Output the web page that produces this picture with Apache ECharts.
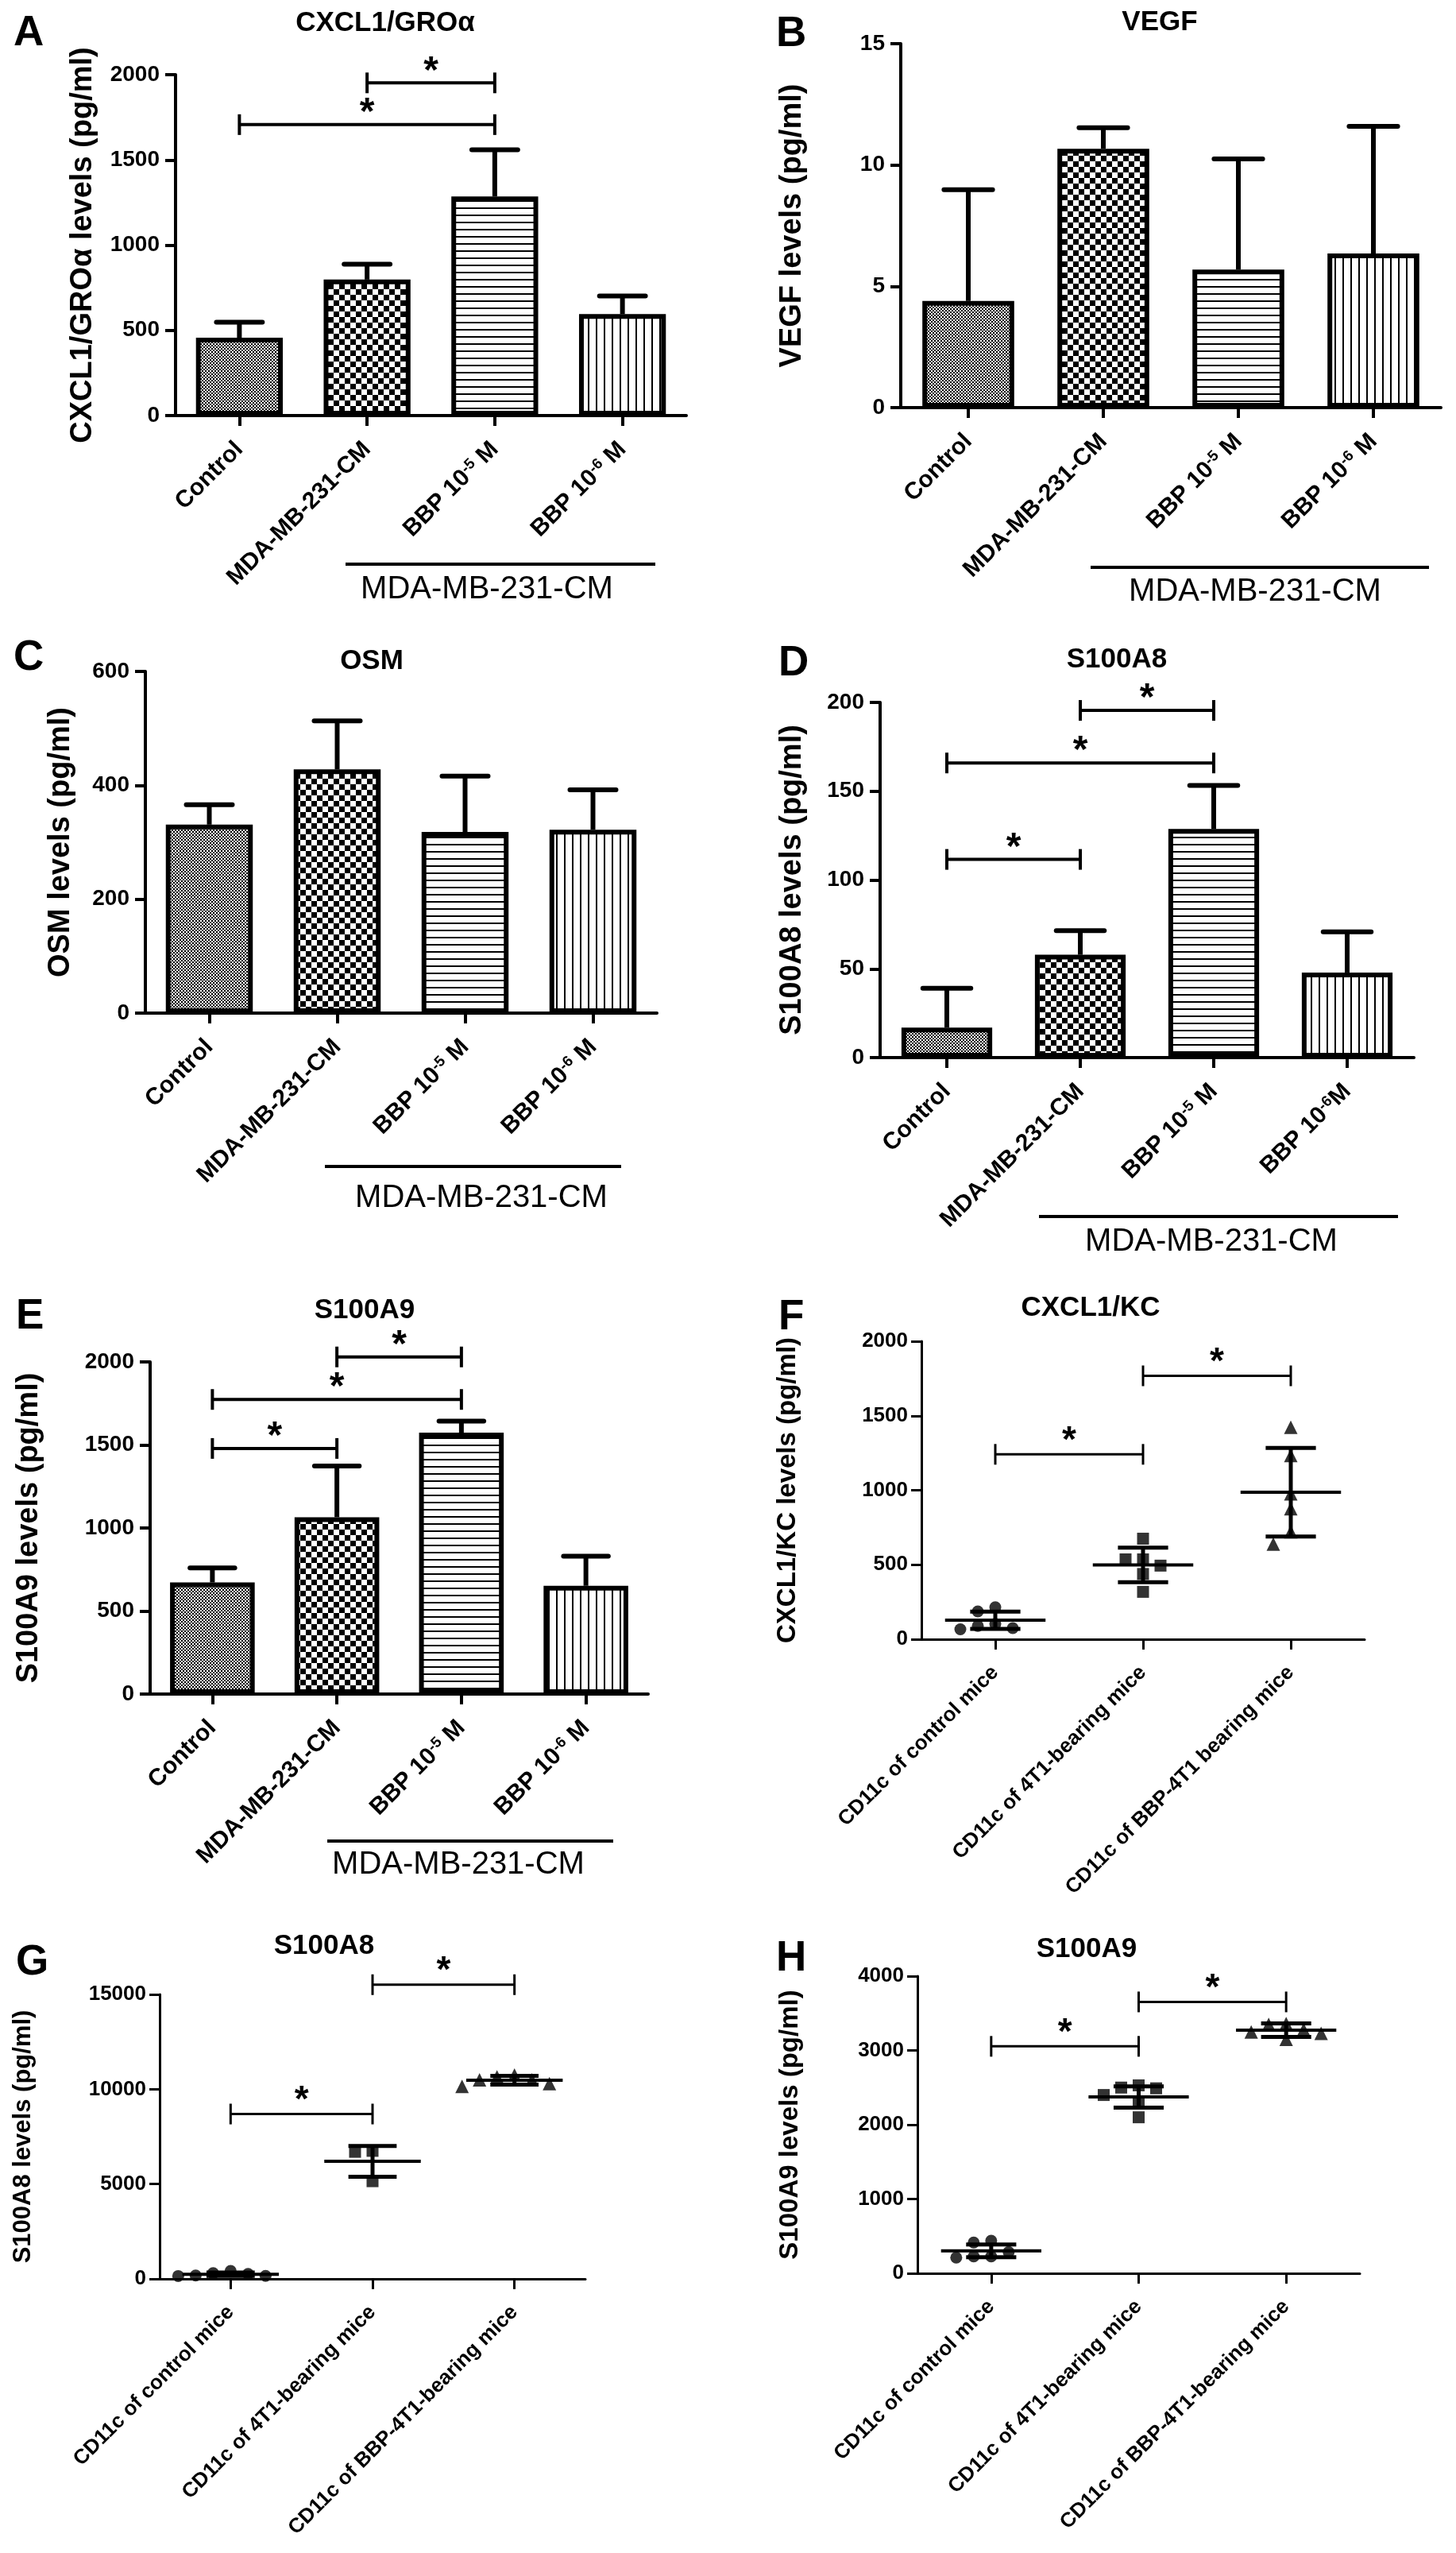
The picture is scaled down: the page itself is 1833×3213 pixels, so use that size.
<!DOCTYPE html>
<html>
<head>
<meta charset="utf-8">
<title>Cytokine levels</title>
<script src="https://cdn.jsdelivr.net/npm/echarts@6.0.0/dist/echarts.min.js"></script>
<style>
    html, body { margin: 0; padding: 0; background: #fff; }
    #main { width: 1833px; height: 3213px; }
</style>
</head>
<body>
<div id="main"></div>
<script>
// 类别
var barCats = ['Control', 'MDA-MB-231-CM', 'BBP 10^-5 M', 'BBP 10^-6 M'];
var barCatsD = ['Control', 'MDA-MB-231-CM', 'BBP 10^-5 M', 'BBP 10^-6M'];
var miceCatsF = ['CD11c of control mice', 'CD11c of 4T1-bearing mice', 'CD11c of BBP-4T1 bearing mice'];
var miceCats = ['CD11c of control mice', 'CD11c of 4T1-bearing mice', 'CD11c of BBP-4T1-bearing mice'];
var groupLabel = 'MDA-MB-231-CM';

// A CXCL1/GROα
var cxclMean = [457, 798, 1286, 595];
var cxclErr = [91, 90, 274, 107];
var cxclSig = [[0, 2, 1707], [1, 2, 1952]];   // [from, to, y]
// B VEGF
var vegfMean = [4.40, 10.67, 5.69, 6.35];
var vegfErr = [4.58, 0.87, 4.56, 5.24];
// C OSM
var osmMean = [331, 428, 318, 322];
var osmErr = [35, 85, 98, 70];
// D S100A8
var a8Mean = [16.9, 57.9, 128.7, 47.9];
var a8Err = [22.1, 13.6, 24.5, 22.9];
var a8Sig = [[0, 1, 111.6], [0, 2, 165.9], [1, 2, 195.5]];
// E S100A9
var a9Mean = [672, 1065, 1574, 652];
var a9Err = [87, 308, 70, 178];
var a9Sig = [[0, 1, 1479], [0, 2, 1774], [1, 2, 2030]];

// F CXCL1/KC (mice)
var kcControl = [187, 215, 89, 67, 75, 103];
var kc4T1 = [675, 536, 536, 494, 438, 318];
var kcBBP = [1423, 1233, 976, 876, 722, 639];
var kcMean = [128, 499, 987];
var kcSd = [58, 116, 297];
var kcSig = [[0, 1, 1241], [1, 2, 1768]];
// G S100A8 (mice)
var mA8Control = [420, 260, 300, 180, 150, 160];
var mA84T1 = [6700, 6750, 5150];
var mA8BBP = [10750, 10650, 10500, 10150, 10300, 10500];
var mA8Mean = [245, 6196, 10476];
var mA8Sd = [90, 814, 234];
var mA8Sig = [[0, 1, 8693], [1, 2, 15513]];
// H S100A9 (mice)
var mA9Control = [415, 438, 228, 211, 228, 285];
var mA94T1 = [2490, 2500, 2530, 2400, 2300, 2100];
var mA9BBP = [3350, 3360, 3280, 3150, 3250, 3230];
var mA9Mean = [302, 2373, 3272];
var mA9Sd = [85, 142, 91];
var mA9Sig = [[0, 1, 3055], [1, 2, 3653]];

var FONT = '"Liberation Sans", Arial, Helvetica, sans-serif';

// 填充图案
function makePattern(w, h, draw) {
    var c = document.createElement('canvas');
    c.width = w;
    c.height = h;
    var ctx = c.getContext('2d');
    ctx.fillStyle = '#fff';
    ctx.fillRect(0, 0, w, h);
    ctx.fillStyle = '#000';
    draw(ctx);
    return { image: c, repeat: 'repeat' };
}
var fills = [
    makePattern(4, 4, function (ctx) { ctx.fillRect(0, 0, 2, 2); ctx.fillRect(2, 2, 2, 2); }),
    makePattern(14, 14, function (ctx) { ctx.fillRect(0, 0, 7, 7); ctx.fillRect(7, 7, 7, 7); }),
    makePattern(4, 9, function (ctx) { ctx.fillRect(0, 0, 4, 2); }),
    makePattern(10, 4, function (ctx) { ctx.fillRect(0, 0, 2, 4); })
];

// group: [x1, x2, lineY, textX, textY]
var panels = [
    { letter: 'A', kind: 'bar', title: 'CXCL1/GROα', yName: 'CXCL1/GROα levels (pg/ml)', cats: barCats,
      mean: cxclMean, err: cxclErr, sig: cxclSig, max: 2000, step: 500,
      grid: [221, 94, 643, 429], titlePos: [485, 29], letterPos: [17, 42], nameGap: 116, group: [435, 825, 710, 613, 742] },
    { letter: 'B', kind: 'bar', title: 'VEGF', yName: 'VEGF levels (pg/ml)', cats: barCats,
      mean: vegfMean, err: vegfErr, sig: [], max: 15, step: 5,
      grid: [1134, 55, 680, 458], titlePos: [1460, 28], letterPos: [977, 43], nameGap: 136, group: [1373, 1799, 714, 1580, 745] },
    { letter: 'C', kind: 'bar', title: 'OSM', yName: 'OSM levels (pg/ml)', cats: barCats,
      mean: osmMean, err: osmErr, sig: [], max: 600, step: 200,
      grid: [183, 845, 644, 430], titlePos: [468, 832], letterPos: [17, 828], nameGap: 106, group: [409, 782, 1468, 606, 1508] },
    { letter: 'D', kind: 'bar', title: 'S100A8', yName: 'S100A8 levels (pg/ml)', cats: barCatsD,
      mean: a8Mean, err: a8Err, sig: a8Sig, max: 200, step: 50,
      grid: [1108, 884, 672, 447], titlePos: [1406, 830], letterPos: [980, 835], nameGap: 110, group: [1308, 1760, 1531, 1525, 1563] },
    { letter: 'E', kind: 'bar', title: 'S100A9', yName: 'S100A9 levels (pg/ml)', cats: barCats,
      mean: a9Mean, err: a9Err, sig: a9Sig, max: 2000, step: 500,
      grid: [189, 1714, 627, 418], titlePos: [459, 1649], letterPos: [20, 1657], nameGap: 152, group: [412, 772, 2317, 577, 2347] },
    { letter: 'F', kind: 'dot', title: 'CXCL1/KC', yName: 'CXCL1/KC levels (pg/ml)', cats: miceCatsF,
      points: [kcControl, kc4T1, kcBBP], mean: kcMean, sd: kcSd, sig: kcSig, max: 2000, step: 500,
      grid: [1160, 1688, 558, 375], titlePos: [1373, 1646], letterPos: [980, 1658], nameGap: 168, nameSize: 33 },
    { letter: 'G', kind: 'dot', title: 'S100A8', yName: 'S100A8 levels (pg/ml)', cats: miceCats,
      points: [mA8Control, mA84T1, mA8BBP], mean: mA8Mean, sd: mA8Sd, sig: mA8Sig, max: 15000, step: 5000,
      grid: [201, 2510, 536, 358], titlePos: [408, 2449], letterPos: [20, 2470], nameGap: 172, nameSize: 31 },
    { letter: 'H', kind: 'dot', title: 'S100A9', yName: 'S100A9 levels (pg/ml)', cats: miceCats,
      points: [mA9Control, mA94T1, mA9BBP], mean: mA9Mean, sd: mA9Sd, sig: mA9Sig, max: 4000, step: 1000,
      grid: [1155, 2487, 557, 374], titlePos: [1368, 2453], letterPos: [977, 2465], nameGap: 160, nameSize: 33 }
];

var dotSymbols = ['circle', 'rect', 'triangle'];
var dotSizes = [15, 15, 17];

function line(x1, y1, x2, y2, w, cap) {
    return { type: 'line', shape: { x1: x1, y1: y1, x2: x2, y2: y2 },
             style: { stroke: '#000', lineWidth: w, lineCap: cap || 'butt' } };
}

function text(str, x, y, size, weight, rot) {
    return { type: 'text', x: x, y: y, rotation: rot || 0,
             style: { text: str, fill: '#000', fontSize: size, fontWeight: weight, fontFamily: FONT,
                      align: 'center', verticalAlign: 'middle', textAlign: 'center', textVerticalAlign: 'middle' } };
}

// 误差线（只画上半）
function renderErr(params, api) {
    var x = api.value(0), m = api.value(1), e = api.value(2);
    var base = api.coord([x, m]);
    var top = api.coord([x, m + e]);
    var half = api.size([1, 0])[0] * 0.18;
    return { type: 'group', children: [
        line(base[0], base[1], top[0], top[1], 6),
        line(top[0] - half, top[1], top[0] + half, top[1], 6, 'round')
    ] };
}

// 均值 ± SD
function renderMeanSd(params, api) {
    var x = api.value(0), m = api.value(1), sd = api.value(2);
    var c = api.coord([x, m]);
    var hi = api.coord([x, m + sd]);
    var lo = api.coord([x, m - sd]);
    var band = api.size([1, 0])[0];
    var mh = band * 0.34, ch = band * 0.17;
    return { type: 'group', children: [
        line(c[0] - mh, c[1], c[0] + mh, c[1], 4),
        line(c[0], lo[1], c[0], hi[1], 5),
        line(c[0] - ch, hi[1], c[0] + ch, hi[1], 5),
        line(c[0] - ch, lo[1], c[0] + ch, lo[1], 5)
    ] };
}

// 显著性标记
function makeSigRender(lw, tick, fs, lift) {
    return function (params, api) {
        var a = api.coord([api.value(0), api.value(1)]);
        var b = api.coord([api.value(2), api.value(1)]);
        return { type: 'group', children: [
            line(a[0], a[1], b[0], b[1], lw),
            line(a[0], a[1] - tick, a[0], a[1] + tick, lw),
            line(b[0], b[1] - tick, b[0], b[1] + tick, lw),
            text('*', (a[0] + b[0]) / 2, a[1] - lift, fs, 'bold')
        ] };
    };
}

// 散点横向错开，避免重叠
function swarm(vals, pxPerUnit, size, step) {
    var order = vals.map(function (v, i) { return i; })
        .sort(function (a, b) { return vals[b] - vals[a]; });
    var placed = [];
    var offs = [];
    order.forEach(function (i) {
        var y = vals[i] * pxPerUnit;
        for (var k = 0; k < 30; k++) {
            var o = (k % 2 ? -1 : 1) * Math.ceil(k / 2) * step;
            var hit = placed.some(function (p) {
                return Math.abs(p.o - o) < step - 0.5 && Math.abs(p.y - y) < size;
            });
            if (!hit) {
                placed.push({ o: o, y: y });
                offs[i] = o;
                break;
            }
        }
    });
    return offs;
}

function supFormatter(v) {
    return v.replace(/\^(-?\d+)/, '{sup|$1}');
}

var grids = [], xAxes = [], yAxes = [], series = [], graphics = [];

panels.forEach(function (p, i) {
    var isBar = p.kind === 'bar';
    var lw = isBar ? 4 : 3;
    var tickFont = isBar ? 30 : 26;
    grids.push({ left: p.grid[0], top: p.grid[1], width: p.grid[2], height: p.grid[3], containLabel: false });

    xAxes.push({
        type: 'category', gridIndex: i, data: p.cats, boundaryGap: true,
        axisLine: { lineStyle: { color: '#000', width: lw } },
        axisTick: { show: true, alignWithLabel: true, length: 13, lineStyle: { color: '#000', width: lw } },
        axisLabel: {
            interval: 0, rotate: 45, margin: 38, color: '#000',
            fontSize: tickFont, fontWeight: 'bold', fontFamily: FONT,
            formatter: supFormatter,
            rich: { sup: { fontSize: 19, fontWeight: 'bold', fontFamily: FONT, color: '#000', verticalAlign: 'top' } }
        },
        splitLine: { show: false }
    });

    yAxes.push({
        type: 'value', gridIndex: i, min: 0, max: p.max, interval: p.step,
        axisLine: { show: true, lineStyle: { color: '#000', width: lw } },
        axisTick: { show: true, length: 13, lineStyle: { color: '#000', width: lw } },
        axisLabel: { color: '#000', fontSize: isBar ? 28 : 26, fontWeight: 'bold', fontFamily: FONT,
                     margin: isBar ? 20 : 17, formatter: function (v) { return String(v); } },
        splitLine: { show: false },
        name: p.yName, nameLocation: 'middle', nameGap: p.nameGap, nameRotate: 90,
        nameTextStyle: { color: '#000', fontSize: p.nameSize || 38, fontWeight: 'bold', fontFamily: FONT,
                         align: 'center', verticalAlign: 'middle' }
    });

    if (isBar) {
        series.push({
            type: 'bar', xAxisIndex: i, yAxisIndex: i, barWidth: '68%', silent: true, z: 2,
            itemStyle: { borderColor: '#000', borderWidth: 6 },
            data: p.mean.map(function (v, j) { return { value: v, itemStyle: { color: fills[j] } }; })
        });
        series.push({
            type: 'custom', xAxisIndex: i, yAxisIndex: i, silent: true, z: 3,
            renderItem: renderErr,
            data: p.mean.map(function (v, j) { return [j, v, p.err[j]]; })
        });
    } else {
        var pxPerUnit = p.grid[3] / p.max;
        p.points.forEach(function (vals, g) {
            var offs = swarm(vals, pxPerUnit, dotSizes[g], 22);
            series.push({
                type: 'scatter', xAxisIndex: i, yAxisIndex: i, silent: true, z: 2,
                symbol: dotSymbols[g], symbolSize: dotSizes[g],
                itemStyle: { color: '#000' },
                data: vals.map(function (v, k) { return { value: [g, v], symbolOffset: [offs[k], 0] }; })
            });
        });
        series.push({
            type: 'custom', xAxisIndex: i, yAxisIndex: i, silent: true, z: 3,
            renderItem: renderMeanSd,
            data: p.mean.map(function (v, j) { return [j, v, p.sd[j]]; })
        });
    }

    if (p.sig.length) {
        series.push({
            type: 'custom', xAxisIndex: i, yAxisIndex: i, silent: true, z: 4,
            renderItem: isBar ? makeSigRender(4, 13, 48, 14) : makeSigRender(3, 13, 46, 16),
            data: p.sig.map(function (s) { return [s[0], s[2], s[1]]; })
        });
    }

    // 标题、字母、分组线
    graphics.push(text(p.title, p.titlePos[0], p.titlePos[1], 35, 'bold'));
    var lt = text(p.letter, p.letterPos[0], p.letterPos[1], 53, 'bold');
    lt.style.align = 'left';
    lt.style.textAlign = 'left';
    graphics.push(lt);
    if (p.group) {
        graphics.push(line(p.group[0], p.group[2], p.group[1], p.group[2], 4));
        graphics.push(text(groupLabel, p.group[3], p.group[4], 40, 'normal'));
    }
});

var chart = echarts.init(document.getElementById('main'), null, { renderer: 'canvas' });
chart.setOption({
    animation: false,
    backgroundColor: '#fff',
    grid: grids,
    xAxis: xAxes,
    yAxis: yAxes,
    series: series,
    graphic: graphics
});
</script>
</body>
</html>
